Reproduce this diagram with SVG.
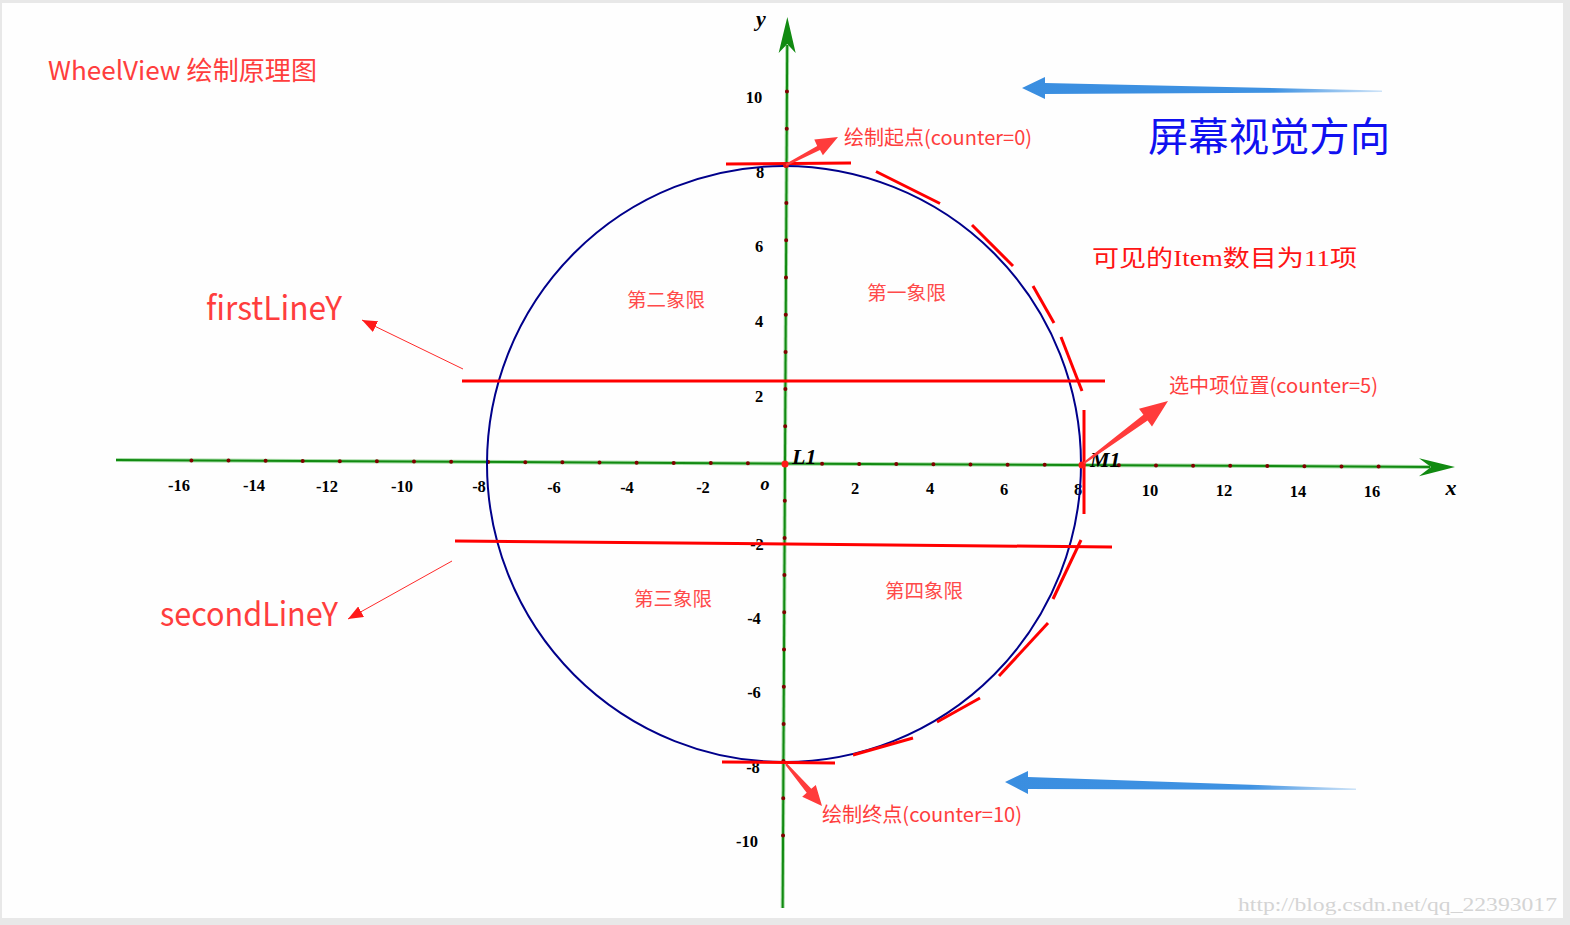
<svg xmlns="http://www.w3.org/2000/svg" width="1570" height="925" viewBox="0 0 1570 925">
<defs>
<style>
.ann{font-family:"Noto Sans CJK SC","Noto Sans",sans-serif;fill:#ff3d3d}
.song{font-family:"Liberation Serif","Noto Sans CJK SC",serif}
.tick{font-family:"Liberation Serif",serif;font-weight:bold;font-size:16.5px;fill:#000;text-anchor:middle}
.ital{font-family:"Liberation Serif",serif;font-style:italic;fill:#000}
.quad{font-family:"Noto Sans CJK SC",sans-serif;font-size:19px;fill:#ff4a4a}
.seg{stroke:#ff0000;stroke-width:3;fill:none}
.dot{fill:#800000}
.thin{stroke:#ff2a2a;stroke-width:1;fill:none}
</style>
<marker id="thinHead" markerWidth="16" markerHeight="12" refX="15" refY="6" orient="auto" markerUnits="userSpaceOnUse">
<path d="M0,0 L15,6 L0,12 Z" fill="#ff1a1a"/>
</marker>
<linearGradient id="blueTop" x1="1022" y1="0" x2="1382" y2="0" gradientUnits="userSpaceOnUse">
<stop offset="0" stop-color="#3a8ee0"/>
<stop offset="0.7" stop-color="#3f92e2"/>
<stop offset="1" stop-color="#cfe4f8"/>
</linearGradient>
<linearGradient id="blueBot" x1="1005" y1="0" x2="1356" y2="0" gradientUnits="userSpaceOnUse">
<stop offset="0" stop-color="#3a8ee0"/>
<stop offset="0.7" stop-color="#3f92e2"/>
<stop offset="1" stop-color="#cfe4f8"/>
</linearGradient>
</defs>

<rect x="0" y="0" width="1570" height="925" fill="#e8e8e8"/>
<rect x="2" y="3" width="1561" height="915" fill="#fefefe"/>

<g id="title">
<text class="ann" x="48" y="80" font-size="26" textLength="269" lengthAdjust="spacingAndGlyphs">WheelView 绘制原理图</text>
</g>

<g id="axes">
<g transform="rotate(0.3 785 463.5)">
<line x1="116" y1="463.5" x2="1430" y2="463.5" stroke="#a8dca8" stroke-width="4"/>
<line x1="116" y1="463.5" x2="1430" y2="463.5" stroke="#118a11" stroke-width="2"/>
<path d="M1455,463.5 L1419,455 L1431,463.5 L1419,473 Z" fill="#118a11"/>
<line x1="785" y1="908" x2="785" y2="45" stroke="#a8dca8" stroke-width="4"/>
<line x1="785" y1="908" x2="785" y2="45" stroke="#118a11" stroke-width="2"/>
<path d="M785,17 L776.5,53 L785,44 L793.5,53 Z" fill="#118a11"/>
<g id="xdots">
<circle class="dot" cx="191.4" cy="463.5" r="2"/><circle class="dot" cx="228.5" cy="463.5" r="2"/><circle class="dot" cx="265.6" cy="463.5" r="2"/><circle class="dot" cx="302.7" cy="463.5" r="2"/><circle class="dot" cx="339.8" cy="463.5" r="2"/><circle class="dot" cx="376.9" cy="463.5" r="2"/><circle class="dot" cx="414" cy="463.5" r="2"/><circle class="dot" cx="451.1" cy="463.5" r="2"/><circle class="dot" cx="488.2" cy="463.5" r="2"/><circle class="dot" cx="525.3" cy="463.5" r="2"/><circle class="dot" cx="562.4" cy="463.5" r="2"/><circle class="dot" cx="599.5" cy="463.5" r="2"/><circle class="dot" cx="636.6" cy="463.5" r="2"/><circle class="dot" cx="673.7" cy="463.5" r="2"/><circle class="dot" cx="710.8" cy="463.5" r="2"/><circle class="dot" cx="747.9" cy="463.5" r="2"/>
<circle class="dot" cx="822.1" cy="463.5" r="2"/><circle class="dot" cx="859.2" cy="463.5" r="2"/><circle class="dot" cx="896.3" cy="463.5" r="2"/><circle class="dot" cx="933.4" cy="463.5" r="2"/><circle class="dot" cx="970.5" cy="463.5" r="2"/><circle class="dot" cx="1007.6" cy="463.5" r="2"/><circle class="dot" cx="1044.7" cy="463.5" r="2"/><circle class="dot" cx="1118.9" cy="463.5" r="2"/><circle class="dot" cx="1156" cy="463.5" r="2"/><circle class="dot" cx="1193.1" cy="463.5" r="2"/><circle class="dot" cx="1230.2" cy="463.5" r="2"/><circle class="dot" cx="1267.3" cy="463.5" r="2"/><circle class="dot" cx="1304.4" cy="463.5" r="2"/><circle class="dot" cx="1341.5" cy="463.5" r="2"/><circle class="dot" cx="1378.6" cy="463.5" r="2"/>
</g>
<g id="ydots">
<circle class="dot" cx="785" cy="91.5" r="2"/><circle class="dot" cx="785" cy="128.7" r="2"/><circle class="dot" cx="785" cy="203.1" r="2"/><circle class="dot" cx="785" cy="240.3" r="2"/><circle class="dot" cx="785" cy="277.5" r="2"/><circle class="dot" cx="785" cy="314.7" r="2"/><circle class="dot" cx="785" cy="351.9" r="2"/><circle class="dot" cx="785" cy="389.1" r="2"/><circle class="dot" cx="785" cy="426.3" r="2"/>
<circle class="dot" cx="785" cy="500.7" r="2"/><circle class="dot" cx="785" cy="537.9" r="2"/><circle class="dot" cx="785" cy="575.1" r="2"/><circle class="dot" cx="785" cy="612.3" r="2"/><circle class="dot" cx="785" cy="649.5" r="2"/><circle class="dot" cx="785" cy="686.7" r="2"/><circle class="dot" cx="785" cy="723.9" r="2"/><circle class="dot" cx="785" cy="761.1" r="2"/><circle class="dot" cx="785" cy="798.3" r="2"/><circle class="dot" cx="785" cy="835.5" r="2"/>
</g>
</g>
<g id="xlabels">
<text class="tick" x="179" y="491">-16</text><text class="tick" x="254" y="491">-14</text><text class="tick" x="327" y="492">-12</text><text class="tick" x="402" y="492">-10</text><text class="tick" x="479" y="492">-8</text><text class="tick" x="554" y="493">-6</text><text class="tick" x="627" y="493">-4</text><text class="tick" x="703" y="493">-2</text>
<text class="tick" x="855" y="494">2</text><text class="tick" x="930" y="494">4</text><text class="tick" x="1004" y="495">6</text><text class="tick" x="1078" y="495">8</text><text class="tick" x="1150" y="496">10</text><text class="tick" x="1224" y="496">12</text><text class="tick" x="1298" y="497">14</text><text class="tick" x="1372" y="497">16</text>
</g>
<g id="ylabels">
<text class="tick" x="754" y="103">10</text><text class="tick" x="760" y="178">8</text><text class="tick" x="759" y="252">6</text><text class="tick" x="759" y="327">4</text><text class="tick" x="759" y="402">2</text>
<text class="tick" x="757" y="550">-2</text><text class="tick" x="754" y="624">-4</text><text class="tick" x="754" y="698">-6</text><text class="tick" x="753" y="773">-8</text><text class="tick" x="747" y="847">-10</text>
</g>
<text class="ital" x="765" y="490" font-size="18" font-weight="bold" text-anchor="middle">o</text>
<text class="ital" x="761" y="26" font-size="22" font-weight="bold" text-anchor="middle">y</text>
<text class="ital" x="1451" y="495" font-size="22" font-weight="bold" text-anchor="middle">x</text>
</g>

<g id="wheel">
<ellipse cx="784" cy="464" rx="297" ry="298" fill="none" stroke="#00008b" stroke-width="2"/>
</g>

<g id="item-lines">
<line class="seg" x1="726" y1="164" x2="851" y2="163"/>
<line class="seg" x1="876" y1="171.5" x2="940" y2="203.5"/>
<line class="seg" x1="972" y1="225" x2="1013" y2="266"/>
<line class="seg" x1="1033" y1="286" x2="1054" y2="323"/>
<line class="seg" x1="1061" y1="337" x2="1082" y2="391"/>
<line class="seg" x1="1084" y1="410" x2="1084" y2="514"/>
<line class="seg" x1="1081" y1="540" x2="1053" y2="599"/>
<line class="seg" x1="1048" y1="623" x2="999" y2="676"/>
<line class="seg" x1="980" y1="698" x2="937" y2="722"/>
<line class="seg" x1="913" y1="738" x2="853" y2="755"/>
<line class="seg" x1="722" y1="762" x2="835" y2="763"/>
<line class="seg" x1="462" y1="381" x2="1105" y2="381"/>
<line class="seg" x1="455" y1="541" x2="1112" y2="547"/>
</g>

<g id="points">
<circle cx="785" cy="464" r="3.5" fill="#ff1a1a"/>
<circle cx="1082" cy="465" r="3.5" fill="#ff1a1a"/>
<circle cx="786" cy="165" r="3" fill="#e01010"/>
<text class="ital" x="792" y="464" font-size="22" font-weight="bold">L1</text>
<text class="ital" x="1090" y="467" font-size="22" font-weight="bold">M1</text>
</g>

<g id="connectors">
<polygon points="785.5,164.1 817.2,146 814.3,139.5 838,137 822.9,155.3 820,150 786.5,165.9" fill="#ff3b3b"/>
<polygon points="1083.4,462.2 1143.4,414.8 1139,408.7 1168,401 1152,426.5 1147.6,420.4 1084.6,463.8" fill="#ff3b3b"/>
<polygon points="786.8,763.3 811.3,788.8 815.8,784.9 822,806 802.2,796.7 806.7,792.8 785.2,764.7" fill="#ff3b3b"/>
<line class="thin" x1="463" y1="369" x2="362" y2="320" marker-end="url(#thinHead)"/>
<line class="thin" x1="452" y1="561" x2="348" y2="619" marker-end="url(#thinHead)"/>
<polygon points="1022,88 1045,77 1045,83 1382,90.5 1382,92 1045,94 1045,99" fill="url(#blueTop)"/>
<polygon points="1005,782 1028,771 1028,777 1356,788.5 1356,790 1028,789 1028,794" fill="url(#blueBot)"/>
</g>

<g id="labels">
<text class="ann" x="844" y="145" font-size="20" textLength="188" lengthAdjust="spacingAndGlyphs">绘制起点(counter=0)</text>
<text class="ann" x="1169" y="393" font-size="20" textLength="209" lengthAdjust="spacingAndGlyphs">选中项位置(counter=5)</text>
<text class="ann" x="822" y="822" font-size="20" textLength="200" lengthAdjust="spacingAndGlyphs">绘制终点(counter=10)</text>
<text class="ann" x="206" y="320" font-size="33" textLength="136" lengthAdjust="spacingAndGlyphs">firstLineY</text>
<text class="ann" x="160" y="626" font-size="33" textLength="178" lengthAdjust="spacingAndGlyphs">secondLineY</text>
<text class="quad" x="627" y="307" textLength="78" lengthAdjust="spacingAndGlyphs">第二象限</text>
<text class="quad" x="867" y="300" textLength="79" lengthAdjust="spacingAndGlyphs">第一象限</text>
<text class="quad" x="634" y="606" textLength="78" lengthAdjust="spacingAndGlyphs">第三象限</text>
<text class="quad" x="885" y="598" textLength="78" lengthAdjust="spacingAndGlyphs">第四象限</text>
<text x="1148" y="151" font-family="Noto Sans CJK SC,sans-serif" font-size="40" fill="#1010f0" textLength="242" lengthAdjust="spacingAndGlyphs">屏幕视觉方向</text>
<text class="song" x="1092" y="266" font-size="23" fill="#ff1414" textLength="265" lengthAdjust="spacingAndGlyphs">可见的Item数目为11项</text>
<text x="1238" y="911" font-family="Liberation Serif,serif" font-size="18" fill="#d4d4d4" textLength="319" lengthAdjust="spacingAndGlyphs">http://blog.csdn.net/qq_22393017</text>
</g>
</svg>
